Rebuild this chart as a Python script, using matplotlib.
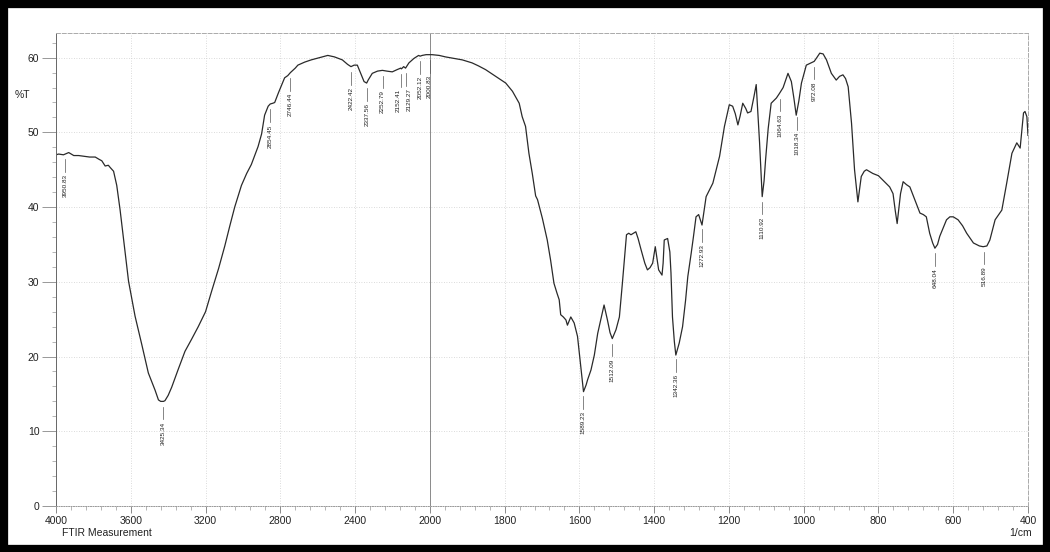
"""FTIR transmittance spectrum with labelled band positions."""

import matplotlib.pyplot as plt
import numpy as np
from matplotlib.patches import Rectangle

# spectrum, digitised (wavenumber in 1/cm, transmittance in %T)
wavenumber = [
    4000, 3986, 3960, 3932, 3905, 3879, 3850, 3820, 3790, 3770, 3755, 3737,
    3720, 3710, 3692, 3675, 3657, 3639, 3612, 3577, 3541, 3506, 3470, 3452,
    3440, 3425, 3417, 3400, 3381, 3346, 3310, 3275, 3239, 3200, 3168, 3130,
    3097, 3070, 3044, 3008, 2980, 2955, 2919, 2900, 2884, 2865, 2854, 2840,
    2830, 2810, 2795, 2777, 2760, 2746, 2720, 2706, 2670, 2635, 2590, 2546,
    2510, 2468, 2440, 2422, 2405, 2388, 2370, 2352, 2338, 2330, 2308, 2280,
    2254, 2230, 2201, 2175, 2156, 2152, 2140, 2130, 2112, 2085, 2060, 2052,
    2041, 2020, 2001, 1994, 1975, 1958, 1935, 1913, 1887, 1870, 1851, 1824,
    1797, 1779, 1761, 1753, 1744, 1735, 1726, 1717, 1712, 1699, 1686, 1677,
    1668, 1660, 1654, 1650, 1643, 1636, 1632, 1623, 1614, 1605, 1596, 1589,
    1582, 1578, 1569, 1560, 1551, 1543, 1534, 1525, 1518, 1512, 1502, 1493,
    1485, 1474, 1468, 1462, 1449, 1443, 1435, 1425, 1418, 1411, 1404, 1397,
    1392, 1388, 1379, 1376, 1373, 1364, 1358, 1355, 1351, 1346, 1342, 1333,
    1324, 1316, 1310, 1301, 1295, 1288, 1281, 1272, 1265, 1261, 1243, 1225,
    1212, 1199, 1190, 1183, 1176, 1170, 1163, 1155, 1150, 1141, 1133, 1127,
    1123, 1118, 1111, 1106, 1102, 1095, 1087, 1073, 1065, 1055, 1042, 1033,
    1026, 1020, 1013, 1006, 993, 980, 972, 965, 957, 948, 939, 926,
    913, 904, 895, 888, 881, 872, 864, 855, 846, 838, 832, 815,
    800, 788, 770, 761, 755, 750, 745, 741, 734, 725, 716, 703,
    689, 680, 672, 663, 655, 649, 642, 636, 618, 609, 600, 587,
    575, 564, 546, 530, 520, 510, 502, 488, 470, 457, 443, 430,
    421, 416, 412, 408, 403, 400,
]
transmittance = [
    47.0, 47.1, 47.0, 47.3, 46.9, 46.9, 46.8, 46.7, 46.7, 46.4, 46.2, 45.5,
    45.6, 45.3, 44.8, 42.9, 39.6, 35.8, 30.1, 25.4, 21.6, 17.8, 15.5, 14.2,
    14.0, 14.0, 14.1, 14.8, 15.9, 18.3, 20.7, 22.3, 24.0, 26.0, 28.7, 31.8,
    34.8, 37.5, 40.0, 42.9, 44.5, 45.7, 48.1, 49.8, 52.3, 53.5, 53.8, 53.9,
    54.0, 55.3, 56.2, 57.3, 57.6, 58.0, 58.6, 59.0, 59.4, 59.7, 60.0, 60.3,
    60.1, 59.7, 59.1, 58.8, 59.0, 59.0, 57.9, 56.8, 56.6, 57.0, 57.9, 58.2,
    58.3, 58.2, 58.1, 58.4, 58.6, 58.5, 58.8, 58.6, 59.3, 59.9, 60.3, 60.2,
    60.3, 60.4, 60.4, 60.4, 60.3, 60.1, 59.9, 59.7, 59.3, 58.9, 58.4, 57.5,
    56.6, 55.5, 53.9, 52.1, 50.8, 47.2, 44.5, 41.5, 41.0, 38.5, 35.6, 32.9,
    29.8, 28.5, 27.6, 25.6, 25.3, 24.9, 24.2, 25.3, 24.5, 22.7, 18.6, 15.3,
    16.2, 16.9, 18.2, 20.2, 23.1, 24.9, 26.9, 24.9, 23.2, 22.4, 23.6, 25.3,
    29.8, 36.3, 36.5, 36.3, 36.7, 35.8, 34.3, 32.5, 31.6, 31.9, 32.5, 34.7,
    33.0, 31.6, 30.9, 32.5, 35.6, 35.8, 34.0, 31.2, 25.3, 22.0, 20.2, 21.8,
    24.0, 27.5, 30.7, 33.8, 36.0, 38.7, 39.0, 37.6, 40.0, 41.4, 43.2, 46.8,
    50.8, 53.7, 53.5, 52.5, 51.0, 52.2, 53.9, 53.2, 52.6, 52.8, 54.8, 56.4,
    53.0, 48.6, 41.4, 43.5, 46.3, 50.5, 53.9, 54.6, 55.2, 56.0, 57.9, 56.8,
    54.5, 52.3, 54.2, 56.6, 59.0, 59.3, 59.5, 60.0, 60.6, 60.5, 59.7, 57.9,
    57.0, 57.5, 57.7, 57.2, 56.1, 51.2, 45.0, 40.7, 44.1, 44.8, 45.0, 44.5,
    44.2, 43.6, 42.7, 41.8, 39.5, 37.8, 40.0, 41.8, 43.4, 43.0, 42.7, 41.0,
    39.2, 39.0, 38.7, 36.5, 35.2, 34.5, 35.0, 36.1, 38.3, 38.7, 38.7, 38.3,
    37.5, 36.5, 35.2, 34.8, 34.7, 34.8, 35.6, 38.3, 39.6, 43.2, 47.2, 48.6,
    47.9, 50.5, 52.6, 52.8, 52.1, 49.6,
]

peak_labels = [
    3950.83, 3425.34, 2854.45, 2746.44, 2422.42, 2337.56, 2252.79, 2152.41,
    2129.27, 2052.12, 2000.83, 1589.23, 1512.09, 1342.36, 1272.93, 1110.92,
    1064.63, 1018.34, 972.08, 648.04, 516.89,
]

x_ticks = [4000, 3600, 3200, 2800, 2400, 2000, 1800, 1600, 1400, 1200,
           1000, 800, 600, 400]
y_ticks = [0, 10, 20, 30, 40, 50, 60]

# sideways nudge (points) for labels that sit too close together
label_nudge = {2152.41: -2.5, 2129.27: 2.5}


# chart is printed at half scale above 2000 1/cm
def fwd(w):
    w = np.asarray(w, dtype=float)
    return np.where(w >= 2000, 2000 + (w - 2000) / 2, w)


def inv(v):
    v = np.asarray(v, dtype=float)
    return np.where(v >= 2000, 2000 + (v - 2000) * 2, v)


plt.rcParams["font.family"] = ["Liberation Sans", "DejaVu Sans"]

fig = plt.figure(figsize=(10.5, 5.52), dpi=100)
fig.patch.set_facecolor("white")
ax = fig.add_axes([56 / 1050, 46 / 552, (1028 - 56) / 1050, (506 - 33) / 552])

ax.set_xscale("function", functions=(fwd, inv))
ax.set_xlim(4000, 400)
ax.set_ylim(0, 63.3)

ax.plot(wavenumber, transmittance, color="#2a2a2a", lw=0.9)

# band labels hang below the curve with a short leader
w_sorted = np.array(wavenumber[::-1], dtype=float)
t_sorted = np.array(transmittance[::-1], dtype=float)
for pk in peak_labels:
    t = np.interp(pk, w_sorted, t_sorted)
    dx = label_nudge.get(pk, 0)
    ax.plot([pk, pk], [t - 0.7, t - 2.4], color="#555555", lw=0.5)
    ax.annotate(f"{pk:.2f}", (pk, t - 2.7), xytext=(dx, 0),
                textcoords="offset points", rotation=90, ha="center",
                va="top", fontsize=4.6, color="#222222")

# frame
ax.set_xticks(x_ticks)
ax.set_xticklabels([str(v) for v in x_ticks])
ax.set_xticks(list(np.arange(4000, 2000, -80)) + list(np.arange(2000, 400, -40)),
              minor=True)
ax.set_yticks(y_ticks)
ax.set_yticks(np.arange(0, 63, 2), minor=True)
ax.tick_params(axis="x", which="major", direction="out", length=5, width=0.6,
               color="#777777", labelsize=7.5, pad=2, labelcolor="#222222")
ax.tick_params(axis="x", which="minor", direction="out", length=3, width=0.5,
               color="#999999")
ax.tick_params(axis="y", which="major", direction="out", length=10, width=0.6,
               color="#888888", labelsize=7.5, pad=2, labelcolor="#222222")
ax.tick_params(axis="y", which="minor", direction="out", length=3, width=0.5,
               color="#999999")

for v in x_ticks[1:-1]:
    ax.axvline(v, color="#cfcfcf", lw=0.6, ls=(0, (1, 2)), zorder=0)
for v in y_ticks[1:]:
    ax.axhline(v, color="#cfcfcf", lw=0.6, ls=(0, (1, 2)), zorder=0)
ax.axvline(2000, color="#8a8a8a", lw=0.7, zorder=0)

ax.spines["left"].set_color("#666666")
ax.spines["bottom"].set_color("#999999")
ax.spines["bottom"].set_linestyle((0, (1, 1.5)))
ax.spines["top"].set_color("#aaaaaa")
ax.spines["top"].set_linestyle((0, (4, 2)))
ax.spines["right"].set_color("#aaaaaa")
ax.spines["right"].set_linestyle((0, (4, 2)))
for s in ax.spines.values():
    s.set_linewidth(0.7)

ax.text(-0.035, 55, "%T", transform=ax.get_yaxis_transform(), ha="center",
        va="center", fontsize=7.5, color="#222222")
fig.text(62 / 1050, 1 - 533 / 552, "FTIR Measurement", ha="left", va="center",
         fontsize=7.5, color="#222222")
fig.text(1032 / 1050, 1 - 533 / 552, "1/cm", ha="right", va="center",
         fontsize=7.5, color="#222222")

# scanned-page black border
fig.patches.append(Rectangle((0, 0), 1, 1, transform=fig.transFigure,
                             fill=False, edgecolor="black", lw=11, zorder=10))

fig.savefig("out.png", dpi=100)
plt.close(fig)
